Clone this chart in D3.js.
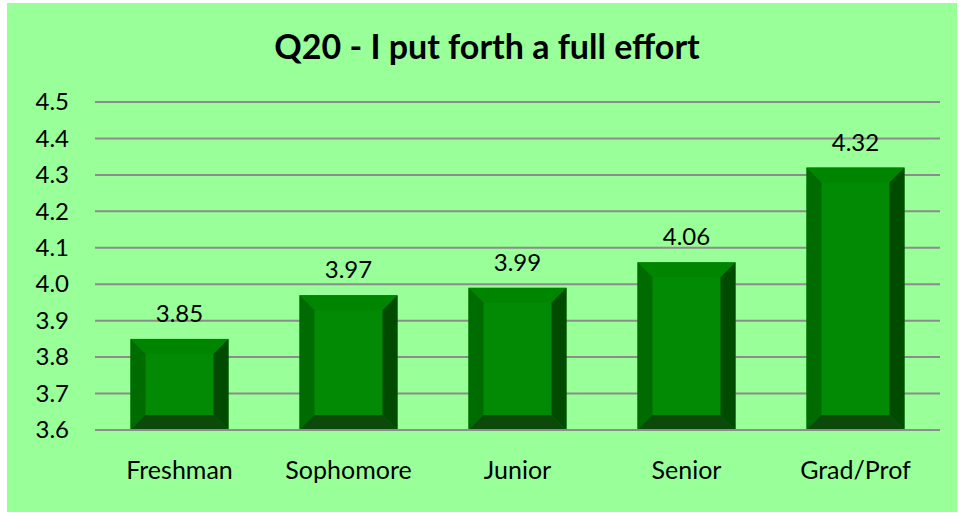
<!DOCTYPE html>
<html>
<head>
<meta charset="utf-8">
<script src="https://cdn.jsdelivr.net/npm/d3@7"></script>
<style>
  body { margin: 0; background: #fff; }
  text { font-family: Lato, "Open Sans", sans-serif; fill: #000; }
</style>
</head>
<body>
<div id="chart"></div>
<script>
// data
var categories = ["Freshman", "Sophomore", "Junior", "Senior", "Grad/Prof"];
var values = [3.85, 3.97, 3.99, 4.06, 4.32];
var yTicks = [3.6, 3.7, 3.8, 3.9, 4.0, 4.1, 4.2, 4.3, 4.4, 4.5];
var title = "Q20 - I put forth a full effort";

var W = 959, H = 514;
var margin = { top: 102, right: 19, bottom: 84, left: 95 };
var width = W - margin.left - margin.right;
var height = H - margin.top - margin.bottom;

var data = categories.map(function (c, i) { return { cat: c, val: values[i] }; });

var svg = d3.select("#chart").append("svg")
    .attr("width", W)
    .attr("height", H);

// chart background
svg.append("rect")
    .attr("x", 7).attr("y", 3)
    .attr("width", 950).attr("height", 509)
    .attr("fill", "#99ff99");

svg.append("text")
    .attr("x", 487).attr("y", 59)
    .attr("text-anchor", "middle")
    .style("font-size", "34px")
    .style("font-weight", "bold")
    .text(title);

var g = svg.append("g")
    .attr("transform", "translate(" + margin.left + "," + margin.top + ")");

var x = d3.scaleBand().domain(categories).range([0, width]).paddingInner(0.42).paddingOuter(0.21);
var y = d3.scaleLinear().domain([3.6, 4.5]).range([height, 0]);

// gridlines
g.selectAll(".grid")
    .data(yTicks)
    .enter().append("line")
    .attr("class", "grid")
    .attr("x1", 0).attr("x2", width)
    .attr("y1", function (d) { return y(d); })
    .attr("y2", function (d) { return y(d); })
    .attr("stroke", "#8c8c8c")
    .attr("stroke-width", 2);

// y axis labels
var yAxis = d3.axisLeft(y).tickValues(yTicks).tickFormat(d3.format(".1f")).tickSize(0).tickPadding(26);
var ya = g.append("g").call(yAxis);
ya.select(".domain").remove();
ya.selectAll("text").style("font-size", "24px").style("font-family", "Lato, sans-serif").attr("fill", "#000");

// x axis labels
var xAxis = d3.axisBottom(x).tickSize(0).tickPadding(31);
var xa = g.append("g").attr("transform", "translate(0," + height + ")").call(xAxis);
xa.select(".domain").remove();
xa.selectAll("text").style("font-size", "25px").style("font-family", "Lato, sans-serif").attr("fill", "#000");

// bevelled bars
var bev = 15;
var bars = g.selectAll(".bar").data(data).enter().append("g").attr("class", "bar");

function poly(pts) { return pts.map(function (p) { return p.join(","); }).join(" "); }

bars.each(function (d) {
    var x0 = x(d.cat), x1 = x0 + x.bandwidth();
    var y0 = y(d.val), y1 = y(3.6);
    var b = Math.min(bev, (y1 - y0) / 2.5);
    var sel = d3.select(this);
    sel.append("rect").attr("x", x0).attr("y", y0).attr("width", x1 - x0).attr("height", y1 - y0).attr("fill", "#038a05");
    sel.append("polygon").attr("points", poly([[x0, y0], [x1, y0], [x1 - bev, y0 + b], [x0 + bev, y0 + b]])).attr("fill", "#008500");
    sel.append("polygon").attr("points", poly([[x0, y0], [x0 + bev, y0 + b], [x0 + bev, y1 - b], [x0, y1]])).attr("fill", "#006b00");
    sel.append("polygon").attr("points", poly([[x1, y0], [x1 - bev, y0 + b], [x1 - bev, y1 - b], [x1, y1]])).attr("fill", "#004b00");
    sel.append("polygon").attr("points", poly([[x0, y1], [x0 + bev, y1 - b], [x1 - bev, y1 - b], [x1, y1]])).attr("fill", "#0b4a0b");
});

// baseline over the bars
g.append("line")
    .attr("x1", 0).attr("x2", width)
    .attr("y1", y(3.6)).attr("y2", y(3.6))
    .attr("stroke", "#8c8c8c").attr("stroke-width", 2);

// value labels
g.selectAll(".val").data(data).enter().append("text")
    .attr("class", "val")
    .attr("x", function (d) { return x(d.cat) + x.bandwidth() / 2; })
    .attr("y", function (d) { return y(d.val) - 17; })
    .attr("text-anchor", "middle")
    .style("font-size", "24px")
    .text(function (d) { return d3.format(".2f")(d.val); });
</script>
</body>
</html>
